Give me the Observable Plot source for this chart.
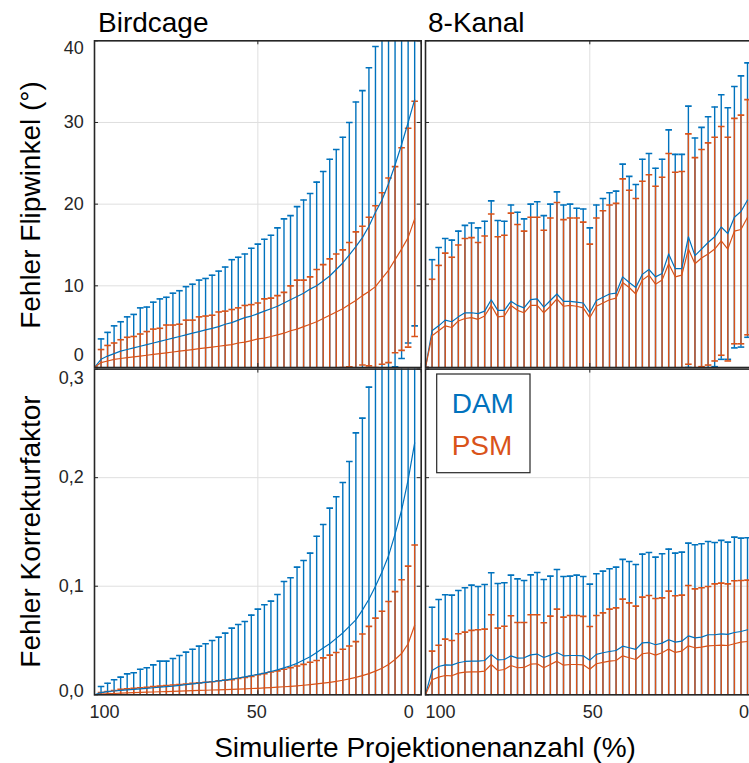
<!DOCTYPE html>
<html><head><meta charset="utf-8">
<script src="https://cdn.jsdelivr.net/npm/d3@7"></script>
<script src="https://cdn.jsdelivr.net/npm/@observablehq/plot@0.6"></script>
<style>
html,body{margin:0;padding:0;background:#fff;overflow:hidden}
#wrap{position:relative;width:749px;height:763px;overflow:hidden;font-family:"Liberation Sans",Arial,sans-serif}
#wrap svg{position:absolute;left:0;top:0}
</style></head><body><div id="wrap"></div>
<script>
// x positions: simulated projection count (%)
const xs = [100,98,96,94,92,90,88,86,84,82, 80,78,76,74,72,70,68,66,64,62,
            60,58,56,54,52,50,48,46,44,42, 40,38,36,34,32,30,28,26,24,22,
            20,18,16,14,12,10,8,6,4,2];
const xTicks = [100, 50, 0];
const flipTicks = [0, 10, 20, 30, 40];
const korrTicks = [0, 0.1, 0.2, 0.3];
const panelTitles = ["Birdcage", "8-Kanal"];
const seriesNames = ["DAM", "PSM"];

// Birdcage – Fehler Flipwinkel
const bcFlipDamMean = [0,1.0,1.4,1.7,2.0,2.2,2.4,2.6,2.8,3.0, 3.2,3.4,3.6,3.8,4.0,4.2,4.4,4.6,4.8,5.0,
  5.3,5.5,5.8,6.1,6.3,6.6,6.9,7.2,7.5,7.9, 8.3,8.7,9.1,9.6,10.0,10.6,11.2,12.0,12.8,13.8,
  14.8,15.9,17.3,19.0,20.5,22.5,24.8,27.3,30.0,32.8];
const bcFlipDamUpper = [0,3.5,4.3,5.1,5.6,6.2,6.5,7.3,7.4,8.0, 8.4,8.6,9.1,9.4,9.9,10.2,10.7,10.9,11.3,11.8,
  12.3,13.2,13.5,13.9,14.6,15.1,15.7,16.2,17.1,18.2, 18.6,19.7,20.5,21.3,22.7,24.0,25.5,26.7,28.2,30.0,
  32.5,33.9,36.7,39.3,43,46,49.5,53.5,57,60.5];
const bcFlipPsmMean = [0,0.6,0.8,1.0,1.1,1.2,1.3,1.4,1.5,1.6, 1.7,1.8,1.9,2.0,2.1,2.2,2.3,2.4,2.5,2.6,
  2.7,2.8,3.0,3.1,3.3,3.5,3.6,3.8,4.0,4.2, 4.5,4.7,5.0,5.3,5.6,6.0,6.4,6.8,7.2,7.7,
  8.2,8.8,9.3,9.9,10.9,11.9,13.2,14.5,15.9,18.2];
const bcFlipPsmUpper = [0,2.2,2.7,3.0,3.4,3.7,3.8,4.1,4.4,4.7, 4.8,5.2,5.2,5.3,5.8,5.8,6.2,6.3,6.4,6.8,
  6.9,7.1,7.3,7.6,7.7,7.9,8.4,8.5,8.8,9.2, 10.0,10.7,10.7,11.1,12.0,12.6,13.3,13.9,14.4,15.3,
  16.6,17.3,18.4,19.8,21.4,23.2,24.6,26.9,29.3,32.6];

// 8-Kanal – Fehler Flipwinkel
const kaFlipDamMean = [0,4.5,5.1,5.8,5.6,6.2,6.7,6.7,6.6,6.9, 8.3,7.0,7.0,8.1,7.6,7.3,8.3,8.4,7.4,8.2,
  9.0,8.1,8.1,8.0,7.9,6.7,8.2,8.6,9.0,9.1, 11.1,10.4,9.8,11.4,12.0,11.1,11.5,13.9,12.1,12.1,
  16.0,13.7,14.5,15.3,16.0,17.2,16.4,18.4,19.1,20.5];
const kaFlipDamUpper = [0,13.2,14.7,15.8,15.6,16.7,17.4,17.7,17.1,17.9, 20.4,18.0,17.9,19.9,19.0,18.2,20.0,20.3,18.6,20.0,
  21.5,19.9,20.0,19.5,19.4,17.1,19.9,20.7,21.4,21.6, 24.9,23.4,22.4,25.5,26.2,24.4,25.5,29.1,26.1,26.1,
  32.0,28.1,29.4,30.7,31.9,33.4,31.8,34.4,35.7,37.3];
const kaFlipPsmMean = [0,3.9,4.5,5.1,4.9,5.7,6.0,6.1,5.9,6.3, 7.6,6.2,6.3,7.6,7.0,6.7,7.6,7.6,6.7,7.5,
  8.4,7.5,7.6,7.5,7.3,6.1,7.5,7.9,8.3,8.5, 10.4,9.8,9.0,10.7,11.3,10.2,10.7,12.7,11.1,11.3,
  14.5,12.7,13.4,13.9,14.5,15.5,14.5,16.7,16.9,18.4];
const kaFlipPsmUpper = [0,10.8,12.5,14.0,13.5,15.0,15.8,15.9,15.3,16.1, 18.8,16.0,16.2,18.9,17.5,16.7,18.4,18.4,16.8,18.3,
  20.2,18.1,18.3,18.3,17.8,15.1,18.3,19.2,19.9,20.1, 23.1,21.7,20.7,22.8,23.6,22.2,23.3,26.2,23.9,24.0,
  28.6,25.7,26.7,27.5,28.2,29.5,28.2,30.5,30.9,32.8];

// Birdcage – Fehler Korrekturfaktor
const bcKorrDamMean = [0,0.002,0.003,0.0035,0.004,0.0045,0.005,0.0055,0.006,0.0065,
  0.007,0.0075,0.008,0.0087,0.0094,0.010,0.0107,0.0114,0.012,0.0128,
  0.0136,0.0145,0.0155,0.0165,0.0176,0.0188,0.020,0.0215,0.023,0.0248,
  0.0268,0.029,0.032,0.035,0.039,0.043,0.047,0.052,0.057,0.063,
  0.069,0.078,0.088,0.100,0.113,0.128,0.148,0.170,0.198,0.232];
const bcKorrDamUpper = [0,0.0077,0.0107,0.0138,0.0163,0.0193,0.0203,0.0236,0.0249,0.0276,
  0.031,0.031,0.0335,0.0362,0.0393,0.042,0.0448,0.047,0.050,0.0531,
  0.0568,0.0614,0.0648,0.0675,0.0734,0.0789,0.0829,0.0863,0.0924,0.1044,
  0.1078,0.1176,0.1237,0.1305,0.1461,0.1569,0.1719,0.1824,0.1956,0.2149,
  0.2413,0.2548,0.2834,0.31,0.33,0.36,0.39,0.42,0.46,0.5];
const bcKorrPsmMean = [0,0.0005,0.001,0.0012,0.0015,0.0017,0.002,0.0022,0.0024,0.0026,
  0.0028,0.003,0.0032,0.0034,0.0036,0.0038,0.004,0.0042,0.0044,0.0046,
  0.0048,0.005,0.0052,0.0055,0.0058,0.006,0.0063,0.0066,0.007,0.0074,
  0.0078,0.0083,0.0088,0.0094,0.010,0.0107,0.0115,0.0124,0.0134,0.0146,
  0.016,0.0176,0.0195,0.0218,0.0245,0.028,0.0325,0.038,0.047,0.064];
const bcKorrPsmUpper = [0,0.002,0.003,0.004,0.005,0.0055,0.006,0.0065,0.007,0.0075,
  0.008,0.0085,0.009,0.0095,0.010,0.0105,0.011,0.0115,0.012,0.013,
  0.0135,0.014,0.015,0.016,0.017,0.0185,0.0195,0.021,0.022,0.0235,
  0.025,0.0265,0.028,0.030,0.0316,0.034,0.0365,0.039,0.042,0.045,
  0.049,0.056,0.063,0.0706,0.077,0.086,0.095,0.106,0.1185,0.138];

// 8-Kanal – Fehler Korrekturfaktor
const kaKorrDamMean = [0,0.0224,0.0261,0.0276,0.0273,0.0295,0.0307,0.031,0.031,0.0316,
  0.0372,0.0322,0.0325,0.0359,0.0338,0.0341,0.0368,0.0375,0.0344,0.0365,
  0.039,0.0359,0.0362,0.0362,0.0359,0.0319,0.0372,0.0387,0.0399,0.0408,
  0.0448,0.0433,0.0418,0.0479,0.0482,0.0461,0.0476,0.0507,0.0485,0.0494,
  0.0543,0.0525,0.0531,0.0553,0.0553,0.0562,0.0556,0.0574,0.0583,0.0599];
const kaKorrDamUpper = [0,0.0807,0.0878,0.0921,0.0918,0.0961,0.0986,0.101,0.0998,0.1016,
  0.1124,0.1025,0.1032,0.1102,0.1068,0.1053,0.1105,0.1127,0.1062,0.1093,
  0.1154,0.109,0.1093,0.1102,0.109,0.1019,0.1115,0.1139,0.1161,0.1176,
  0.1247,0.1228,0.12,0.1296,0.1311,0.1268,0.1299,0.1342,0.1305,0.1314,
  0.1397,0.1382,0.1391,0.1412,0.1403,0.1422,0.1406,0.1452,0.1443,0.1446];
const kaKorrPsmMean = [0,0.0138,0.0163,0.0178,0.0175,0.02,0.0209,0.0212,0.0212,0.0218,
  0.0279,0.0224,0.0233,0.027,0.0249,0.0252,0.0282,0.0286,0.0249,0.0279,
  0.031,0.0273,0.0279,0.0279,0.0276,0.0236,0.0286,0.0298,0.031,0.0316,
  0.0359,0.0341,0.0325,0.0378,0.0387,0.0365,0.0387,0.0421,0.039,0.0402,
  0.0451,0.0433,0.0439,0.0451,0.0454,0.0457,0.0454,0.047,0.0485,0.0491];
const kaKorrPsmUpper = [0,0.0402,0.0457,0.0513,0.05,0.0562,0.0577,0.0593,0.0599,0.0605,
  0.0737,0.0614,0.0632,0.0728,0.0666,0.0666,0.0737,0.0737,0.0663,0.0725,
  0.0789,0.0715,0.0731,0.0731,0.0722,0.0629,0.0731,0.0755,0.0789,0.0801,
  0.0881,0.0847,0.0817,0.09,0.0915,0.0887,0.0893,0.0955,0.0912,0.0918,
  0.1007,0.0976,0.0986,0.0998,0.1022,0.1029,0.1022,0.105,0.1053,0.1056];

const BLUE = "#0072BD", ORANGE = "#D95319", GRID = "#dfdfdf", AX = "#262626";
const FONT = "'Liberation Sans', Arial, Helvetica, sans-serif";
const capSym = {draw(ctx) { ctx.moveTo(-3.3, 0); ctx.lineTo(3.3, 0); }};
const rows = (m, u) => xs.map((x, i) => ({x, mean: m[i], upper: u[i], lower: 2 * m[i] - u[i]}));
const comma = d => d.toFixed(1).replace(".", ",");

function panel(o) {
  const dam = rows(o.damM, o.damU), psm = rows(o.psmM, o.psmU);
  const pw = o.width - o.ml - o.mr, ph = o.height - o.mt - o.mb;
  const yt = o.yTicks;
  const series = (data, color) => [
    Plot.ruleX(data, {x: "x", y1: "lower", y2: "upper", stroke: color, strokeWidth: 1.4, clip: true}),
    Plot.dot(data, {x: "x", y: "upper", symbol: capSym, stroke: color, fill: "none", strokeWidth: 1.6, clip: true}),
    Plot.dot(data, {x: "x", y: "lower", symbol: capSym, stroke: color, fill: "none", strokeWidth: 1.6, clip: true})
  ];
  const marks = [
    Plot.gridX(xTicks, {stroke: GRID, strokeOpacity: 1, strokeWidth: 1}),
    Plot.gridY(yt, {stroke: GRID, strokeOpacity: 1, strokeWidth: 1}),
    ...series(dam, BLUE),
    ...series(psm, ORANGE),
    Plot.line(dam, {x: "x", y: "mean", stroke: BLUE, strokeWidth: 1.2, clip: true}),
    Plot.line(psm, {x: "x", y: "mean", stroke: ORANGE, strokeWidth: 1.2, clip: true}),
    Plot.tickY(yt, {y: d => d, insetRight: pw - 4, stroke: AX, strokeWidth: 1}),
    Plot.tickY(yt, {y: d => d, insetLeft: pw - 4, stroke: AX, strokeWidth: 1}),
    Plot.tickX(xTicks, {x: d => d, insetBottom: ph - 4, stroke: AX, strokeWidth: 1}),
    Plot.tickX(xTicks, {x: d => d, insetTop: ph - 4, stroke: AX, strokeWidth: 1}),
    Plot.frame({stroke: AX, strokeWidth: 1.6})
  ];
  if (o.yAxis) {
    const common = {anchor: "left", tickSize: 0, tickPadding: 10.7, fontSize: 18, label: null, tickFormat: o.fmt, fill: AX};
    marks.push(Plot.axisY(yt.slice(1, -1), common));
    marks.push(Plot.axisY([yt[yt.length - 1]], {...common, dy: o.topDy}));
    marks.push(Plot.axisY([yt[0]], {...common, dy: o.zeroDy}));
  }
  if (o.xAxis) {
    const common = {anchor: "bottom", tickSize: 0, tickPadding: 10.7, fontSize: 18, label: null, fill: AX};
    marks.push(Plot.axisX([100], {...common, dx: o.xDx[0]}));
    marks.push(Plot.axisX([50], {...common, dx: o.xDx[1]}));
    marks.push(Plot.axisX([0], {...common, dx: o.xDx[2]}));
  }
  return Plot.plot({
    width: o.width, height: o.height,
    marginLeft: o.ml, marginRight: o.mr, marginTop: o.mt, marginBottom: o.mb,
    x: {domain: [100, 0], axis: null, label: null},
    y: {domain: o.yDomain, axis: null, label: null},
    style: {background: "transparent", maxWidth: "none", overflow: "visible", fontFamily: FONT, color: AX},
    marks
  });
}

const wrap = document.getElementById("wrap");
const flipFmt = d => String(d);
wrap.append(panel({width: 425, height: 368, ml: 94, mr: 4.3, mt: 40.3, mb: 1, yDomain: [0, 40], yTicks: flipTicks,
  damM: bcFlipDamMean, damU: bcFlipDamUpper, psmM: bcFlipPsmMean, psmU: bcFlipPsmUpper,
  yAxis: true, fmt: flipFmt, topDy: 7, zeroDy: -12}));
wrap.append(panel({width: 760, height: 368, ml: 425, mr: 6.4, mt: 40.3, mb: 1, yDomain: [0, 40], yTicks: flipTicks,
  damM: kaFlipDamMean, damU: kaFlipDamUpper, psmM: kaFlipPsmMean, psmU: kaFlipPsmUpper}));
wrap.append(panel({width: 425, height: 763, ml: 94, mr: 4.3, mt: 368.6, mb: 68.7, yDomain: [0, 0.3], yTicks: korrTicks,
  damM: bcKorrDamMean, damU: bcKorrDamUpper, psmM: bcKorrPsmMean, psmU: bcKorrPsmUpper,
  yAxis: true, fmt: comma, topDy: 9, zeroDy: -4, xAxis: true, xDx: [10, -1, -12.5]}));
wrap.append(panel({width: 760, height: 763, ml: 425, mr: 6.4, mt: 368.6, mb: 68.7, yDomain: [0, 0.3], yTicks: korrTicks,
  damM: kaKorrDamMean, damU: kaKorrDamUpper, psmM: kaKorrPsmMean, psmU: kaKorrPsmUpper,
  xAxis: true, xDx: [15, 3, -10]}));

// Titles, axis labels, legend
const svg = d3.select(wrap).append("svg").attr("width", 749).attr("height", 763)
  .style("font-family", FONT).style("overflow", "visible");
svg.append("text").attr("x", 98).attr("y", 32.3).attr("font-size", 28).attr("fill", "#000").text(panelTitles[0]);
svg.append("text").attr("x", 428).attr("y", 32.3).attr("font-size", 28).attr("fill", "#000").text(panelTitles[1]);
svg.append("text").attr("transform", "translate(40,205) rotate(-90)").attr("text-anchor", "middle")
  .attr("font-size", 28).attr("fill", "#000").text("Fehler Flipwinkel (°)");
svg.append("text").attr("transform", "translate(40,531.5) rotate(-90)").attr("text-anchor", "middle")
  .attr("font-size", 28).attr("fill", "#000").text("Fehler Korrekturfaktor");
svg.append("text").attr("x", 425).attr("y", 756.7).attr("text-anchor", "middle")
  .attr("font-size", 28).attr("fill", "#000").text("Simulierte Projektionenanzahl (%)");
const lg = svg.append("g");
lg.append("rect").attr("x", 436.7).attr("y", 374).attr("width", 93.3).attr("height", 98.7)
  .attr("fill", "#fff").attr("stroke", AX).attr("stroke-width", 1.2);
lg.append("text").attr("x", 451.7).attr("y", 413.3).attr("font-size", 28).attr("fill", BLUE).text(seriesNames[0]);
lg.append("text").attr("x", 451.7).attr("y", 455).attr("font-size", 28).attr("fill", ORANGE).text(seriesNames[1]);
</script>
</body></html>
